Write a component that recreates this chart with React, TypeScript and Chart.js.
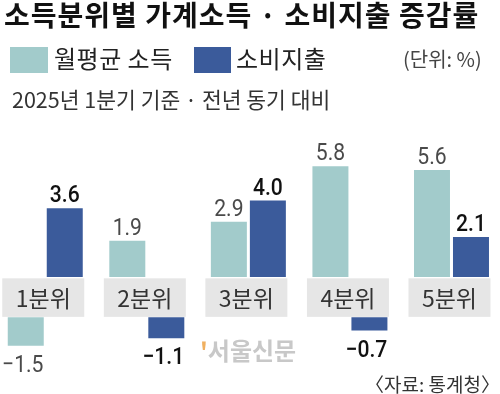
import React, { useEffect, useRef } from "react";
import { Chart, registerables } from "chart.js";

Chart.register(...registerables);

const title = "소득분위별 가계소득 · 소비지출 증감률";
const subtitle = "2025년 1분기 기준 · 전년 동기 대비";
const unitLabel = "(단위: %)";
const sourceLabel = "〈자료: 통계청〉";
const categories = ["1분위", "2분위", "3분위", "4분위", "5분위"];
const seriesNames = ["월평균 소득", "소비지출"];
const incomeValues = [-1.5, 1.9, 2.9, 5.8, 5.6];
const spendingValues = [3.6, -1.1, 4.0, -0.7, 2.1];
const seriesColors = ["#a2cbcb", "#3b5b9b"];
const labelColors = ["#4a4a4a", "#111111"];
const labelWeights = ["normal", "500"];

// axis break: negative bars start below the category label band
const GAP = 2.1;

const toFloating = (vals: number[]) =>
  vals.map((v, i) => ({ x: i, y: v >= 0 ? [0, v] : [-GAP, v - GAP] }));

const NUM_FONT = '"Roboto", sans-serif';
const KR_FONT = '"Noto Sans CJK KR", "Noto Sans", sans-serif';

const overlayPlugin = {
  id: "overlay",
  beforeDatasetsDraw(chart: any) {
    const { ctx, scales } = chart;
    const x = scales.x;
    const y = scales.y;
    const top = y.getPixelForValue(0) + 1.3;
    const bottom = y.getPixelForValue(-GAP) - 0.3;
    ctx.save();
    categories.forEach((c, i) => {
      const cx = x.getPixelForValue(i) - 2;
      ctx.fillStyle = "#e6e6e6";
      ctx.fillRect(cx - 41, top, 82, bottom - top);
      ctx.fillStyle = "#333333";
      ctx.font = `23px ${KR_FONT}`;
      ctx.textAlign = "center";
      ctx.textBaseline = "middle";
      ctx.fillText(c, cx, (top + bottom) / 2 + 1);
    });
    ctx.restore();
  },
  afterDatasetsDraw(chart: any) {
    const { ctx } = chart;
    const all = [incomeValues, spendingValues];
    ctx.save();
    ctx.textAlign = "center";
    ctx.textBaseline = "alphabetic";
    all.forEach((vals, di) => {
      const meta = chart.getDatasetMeta(di);
      meta.data.forEach((el: any, i: number) => {
        const v = vals[i];
        ctx.fillStyle = labelColors[di];
        ctx.font = `${labelWeights[di]} 24px ${NUM_FONT}`;
        const txt = v < 0 ? "\u2212" + Math.abs(v).toFixed(1) : v.toFixed(1);
        const tx = v >= 0 ? el.x : el.x - 3;
        const ty = v >= 0 ? el.y - 6 : el.y + 26;
        ctx.save();
        ctx.translate(tx, ty);
        ctx.scale(0.88, 1);
        ctx.fillText(txt, 0, 0);
        ctx.restore();
      });
    });
    ctx.restore();
  },
};

export default function App() {
  const ref = useRef<HTMLCanvasElement | null>(null);
  useEffect(() => {
    if (!ref.current) return;
    const chart = new Chart(ref.current, {
      type: "bar",
      data: {
        datasets: [
          {
            label: seriesNames[0],
            data: toFloating(incomeValues) as any,
            backgroundColor: seriesColors[0],
            borderWidth: 0,
          },
          {
            label: seriesNames[1],
            data: toFloating(spendingValues) as any,
            backgroundColor: seriesColors[1],
            borderWidth: 0,
          },
        ],
      },
      options: {
        responsive: false,
        animation: false,
        events: [],
        layout: { padding: { top: 143.3, bottom: 31, left: 0, right: 0 } },
        datasets: {
          bar: { categoryPercentage: 0.768, barPercentage: 0.923, grouped: true },
        },
        scales: {
          x: {
            type: "linear",
            display: false,
            offset: false,
            grid: { offset: false },
            min: -0.4456,
            max: 4.4777,
            afterBuildTicks: (scale: any) => {
              scale.ticks = categories.map((_, i) => ({ value: i }));
            },
          },
          y: { type: "linear", display: false, min: -4.5, max: 7 },
        },
        plugins: {
          legend: { display: false },
          tooltip: { enabled: false },
        },
      },
      plugins: [overlayPlugin],
    });
    return () => chart.destroy();
  }, []);

  const abs = (s: React.CSSProperties): React.CSSProperties => ({
    position: "absolute",
    whiteSpace: "nowrap",
    lineHeight: 1,
    fontFamily: KR_FONT,
    ...s,
  });

  return (
    <div style={{ position: "absolute", left: 0, top: 0, width: 500, height: 394, background: "#fff", overflow: "hidden" }}>
      <canvas ref={ref} width={500} height={394} style={{ position: "absolute", left: 0, top: 0 }} />
      <div style={abs({ left: 4, top: 0, fontSize: 28, fontWeight: 700, color: "#111", letterSpacing: 1 })}>{title}</div>
      <div style={abs({ left: 10, top: 47, width: 38, height: 26, background: seriesColors[0] })} />
      <div style={abs({ left: 54, top: 46, fontSize: 24, color: "#222", letterSpacing: 0.5 })}>{seriesNames[0]}</div>
      <div style={abs({ left: 194, top: 47, width: 37, height: 26, background: seriesColors[1] })} />
      <div style={abs({ left: 236, top: 46, fontSize: 24, color: "#222", letterSpacing: 0.5 })}>{seriesNames[1]}</div>
      <div style={abs({ left: 403, top: 49, fontSize: 20, color: "#444" })}>{unitLabel}</div>
      <div style={abs({ left: 12, top: 88, fontSize: 21.5, color: "#333" })}>{subtitle}</div>
      <div style={abs({ left: 200, top: 338, fontSize: 24, fontWeight: 700, color: "#c8c8c8" })}>
        <span style={{ color: "#f0b060" }}>'</span>서울신문
      </div>
      <div style={abs({ right: 0, top: 374, fontSize: 19, color: "#333" })}>{sourceLabel}</div>
    </div>
  );
}
